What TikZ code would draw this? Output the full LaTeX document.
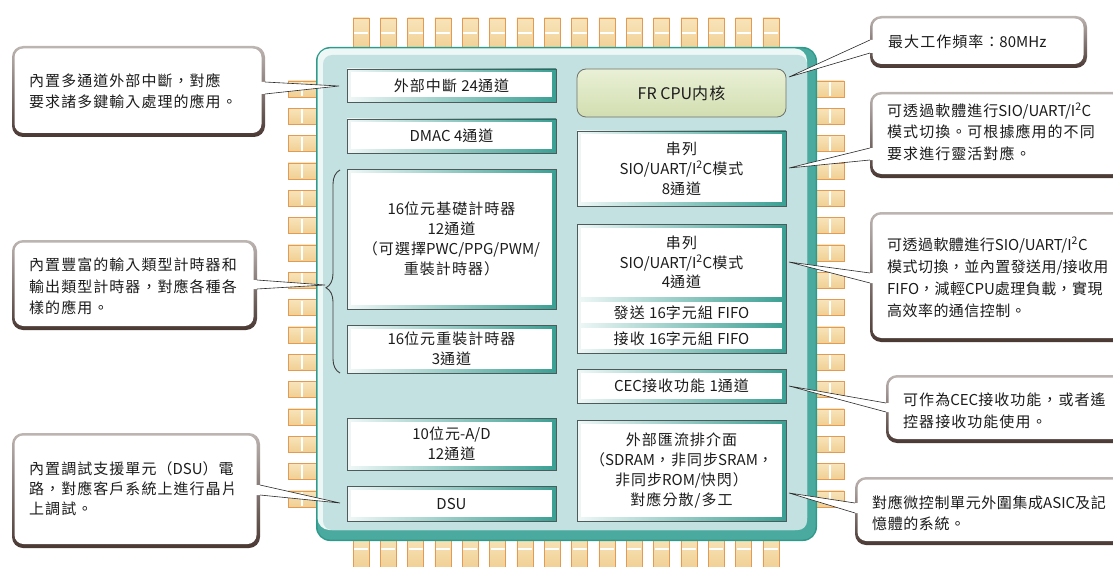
\documentclass[tikz,border=0pt]{standalone}
\usepackage{fontspec}
\setmainfont[LetterSpace=7]{Noto Sans CJK TC}
\newfontfamily\latfont{Noto Sans CJK TC}
\newcommand\lx[1]{{\latfont #1}}
\usetikzlibrary{decorations.pathreplacing}

\definecolor{chipedge}{HTML}{2E9A8C}
\definecolor{chipband}{HTML}{4AAA9F}
\definecolor{chiplight}{HTML}{EDF7F6}
\definecolor{chipfill}{HTML}{C3E1E0}
\definecolor{pinfill}{HTML}{F0CF92}
\definecolor{pinfilltop}{HTML}{F8E4BA}
\definecolor{pinedge}{HTML}{E39A55}
\definecolor{blkteal}{HTML}{3A9F93}
\definecolor{blkedge}{HTML}{4F5B5A}
\definecolor{cpuA}{HTML}{E9F0D6}
\definecolor{cpuB}{HTML}{D2DEB0}
\definecolor{cpuedge}{HTML}{6E716A}
\definecolor{calldark}{HTML}{4A3833}
\definecolor{calllight}{HTML}{BDB5B2}
\definecolor{txt}{HTML}{1C1C1C}
\definecolor{ptrline}{HTML}{2A2A2A}

\tikzset{
  pinbox/.style={top color=pinfilltop, bottom color=pinfill, draw=pinedge, line width=0.9},
  blkbase/.style={draw=blkedge, line width=0.7, left color=white!92!blkteal, right color=blkteal,
     inner sep=0, align=center, text=txt, font=\fontsize{15}{20}\selectfont},
  blk/.style={blkbase, path picture={\fill[white]
     ([xshift=3.5pt,yshift=-3.5pt]path picture bounding box.north west) rectangle
     ([xshift=-4.5pt,yshift=4.5pt]path picture bounding box.south east);}},
  subblk/.style={fill=white, inner sep=0, align=center, text=txt, font=\fontsize{15}{19.5}\selectfont},
  cpubox/.style={rounded corners=9, draw=cpuedge, line width=0.8, top color=cpuA, bottom color=cpuB,
     inner sep=0, text=txt, font=\fontsize{16}{20}\selectfont},
  calltext/.style={align=left, inner sep=0, text=txt, font=\fontsize{15}{21.5}\selectfont, anchor=north west},
  ptr/.style={draw=ptrline, line width=0.6},
  bracedeco/.style={draw=txt!85, line width=0.9, decorate, decoration={brace, amplitude=14, aspect=0.42}}
}

% name, x1, y1, x2, y2, text
\newcommand\blkbox[7][blk]{\node[#1, minimum width={#5-#3}, minimum height={#6-#4}] (#2) at ({(#3+#5)/2},{(#4+#6)/2}) {#7};}
% callout frame: x1 y1 x2 y2
\newcommand\callframe[4]{%
  \path[rounded corners=11, top color=calllight, bottom color=calldark] (#1,#2) rectangle (#3,#4);
  \path[rounded corners=9, fill=white] (#1+2.5,#2+2.5) rectangle (#3-3.5,#4-4);}
% pointer: border x, inner x, y1, y2, tip
\newcommand\pointer[5]{%
  \fill[white] (#2,#3) -- (#1,#3) -- (#5) -- (#1,#4) -- (#2,#4) -- cycle;
  \draw[ptr] (#1,#3) -- (#5) -- (#1,#4);}

\begin{document}
\begin{tikzpicture}[x=1pt,y=-1pt]
\useasboundingbox (0,0) rectangle (1113,567);
\clip (0,0) rectangle (1113,567);

% ---------- pins ----------
\foreach \i in {0,...,15}{
  \pgfmathsetmacro\px{353+27.33*\i}
  \pgfmathsetmacro\py{81+27.33*\i}
  \draw[pinbox] (\px,18) rectangle (\px+16,52);
  \draw[white, line width=1.3] (\px+1,33) -- (\px+15,33);
  \draw[pinbox] (\px,536) rectangle (\px+16,570);
  \draw[white, line width=1.3] (\px+1,549) -- (\px+15,549);
  \draw[pinbox] (288,\py) rectangle (322,\py+16);
  \draw[white, line width=1.3] (302,\py+1) -- (302,\py+15);
  \draw[pinbox] (810,\py) rectangle (844,\py+16);
  \draw[white, line width=1.3] (830,\py+1) -- (830,\py+15);
}

% ---------- chip body ----------
\fill[chipedge, rounded corners=14] (316,47) rectangle (817,541);
\fill[chipband, rounded corners=12.5] (317.5,48.5) rectangle (815.5,539.5);
\fill[chiplight, rounded corners=12] (317.5,48.5) rectangle (807,530);
\fill[chipfill, rounded corners=9] (323,55) rectangle (807,530);

% ---------- blocks ----------
\blkbox{int24}{347}{69}{556}{102}{外部中斷 \lx{24}通道}
\blkbox{dmac}{347}{119}{556}{153}{\lx{DMAC 4}通道}
\blkbox{tmr}{347}{169}{556}{309}{\lx{16}位元基礎計時器\\\lx{12}通道\\（可選擇\lx{PWC/PPG/PWM/}\\重裝計時器）}
\blkbox{rld}{347}{325}{556}{373}{\lx{16}位元重裝計時器\\\lx{3}通道}
\blkbox{adc}{347}{418}{556}{470}{\lx{10}位元\lx{-A/D}\\\lx{12}通道}
\blkbox{dsu}{347}{486}{556}{521}{\lx{DSU}}

\node[cpubox, minimum width=209, minimum height=48] (cpu) at (681.5,93) {\lx{FR CPU}内核};
\blkbox{ser8}{577}{131}{786}{206}{串列\\\lx{SIO/UART/I\textsuperscript{2}C}模式\\\lx{8}通道}
\blkbox[blkbase]{ser4}{577}{224}{786}{353}{}
\blkbox[subblk]{ser4a}{581}{228}{782}{297}{串列\\\lx{SIO/UART/I\textsuperscript{2}C}模式\\\lx{4}通道}
\blkbox[subblk]{ser4b}{581}{302}{782}{323}{發送 \lx{16}字元組 \lx{FIFO}}
\blkbox[subblk]{ser4c}{581}{328}{782}{349}{接收 \lx{16}字元組 \lx{FIFO}}
\blkbox{cec}{577}{369}{786}{403}{\lx{CEC}接收功能 \lx{1}通道}
\blkbox{ebi}{577}{420}{786}{521}{外部匯流排介面\\（\lx{SDRAM}，非同步\lx{SRAM}，\\非同步\lx{ROM/}快閃）\\對應分散/多工}

% brace
\draw[bracedeco] (340,373) -- (340,170);

% ---------- tips ----------
\coordinate (t1) at (339,86);
\coordinate (t2) at (789,77);
\coordinate (t3) at (789,168);
\coordinate (t4) at (789,262);
\coordinate (t5) at (789,386);
\coordinate (t6) at (789,493);
\coordinate (t7) at (325,285);
\coordinate (t8) at (340,503);

% ---------- callouts ----------
\callframe{12}{46}{265}{137}
\pointer{265}{258}{82}{94}{t1}
\node[calltext] (c1) at (29,73) {內置多通道外部中斷，對應\\要求諸多鍵輸入處理的應用。};

\callframe{870}{16}{1087}{68}
\pointer{870}{877}{40}{53}{t2}
\node[calltext] (c2) at (888,35) {最大工作頻率：\lx{80MHz}};

\callframe{870}{92}{1125}{178}
\pointer{870}{877}{148}{160}{t3}
\node[calltext] (c3) at (887,103) {可透過軟體進行\lx{SIO/UART/I\textsuperscript{2}C}\\模式切換。可根據應用的不同\\要求進行靈活對應。};

\callframe{870}{212}{1125}{342}
\pointer{870}{877}{273}{283}{t4}
\node[calltext, font=\fontsize{15}{22}\selectfont\addfontfeatures{LetterSpace=3}] (c4) at (887,237) {可透過軟體進行\lx{SIO/UART/I\textsuperscript{2}C}\\模式切換，並內置發送用\lx{/}接收用\\\lx{FIFO}，減輕\lx{CPU}處理負載，實現\\高效率的通信控制。};

\callframe{886}{375}{1125}{443}
\pointer{886}{893}{403}{412}{t5}
\node[calltext] (c5) at (903,393) {可作為\lx{CEC}接收功能，或者遙\\控器接收功能使用。};

\callframe{855}{477}{1125}{545}
\pointer{855}{862}{503}{513}{t6}
\node[calltext, font=\fontsize{15}{21.5}\selectfont\addfontfeatures{LetterSpace=4}] (c6) at (872,495) {對應微控制單元外圍集成\lx{ASIC}及記\\憶體的系統。};

\callframe{12}{240}{257}{330}
\pointer{257}{250}{280}{289}{t7}
\node[calltext] (c7) at (29,258) {內置豐富的輸入類型計時器和\\輸出類型計時器，對應各種各\\樣的應用。};

\callframe{12}{433}{260}{548}
\pointer{260}{253}{485}{495}{t8}
\node[calltext, font=\fontsize{15}{20}\selectfont] (c8) at (29,461) {內置調試支援單元（\lx{DSU}）電\\路，對應客戶系統上進行晶片\\上調試。};

\end{tikzpicture}
\end{document}
